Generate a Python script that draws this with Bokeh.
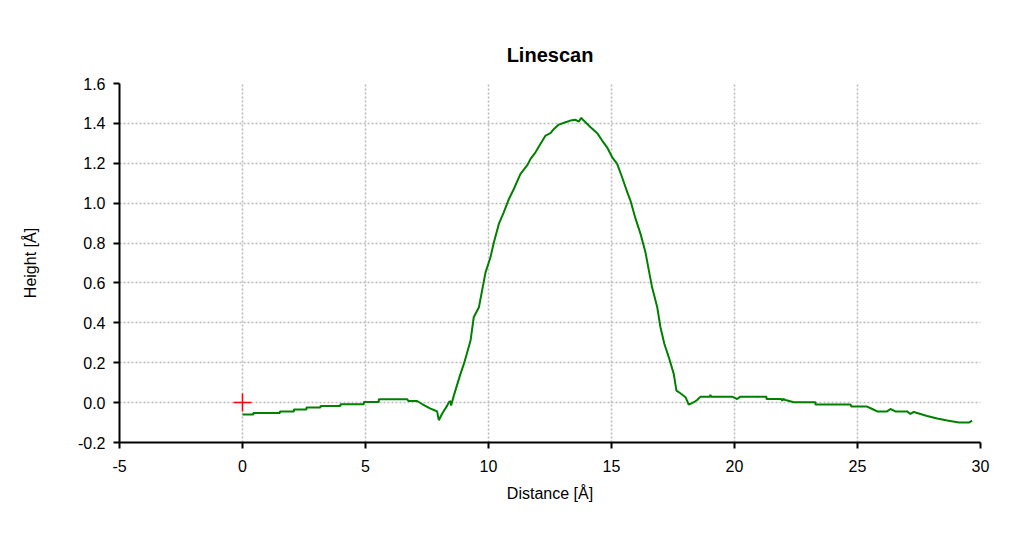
from bokeh.plotting import figure
from bokeh.models import FixedTicker, Range1d
from bokeh.embed import file_html
from bokeh.resources import INLINE

# ---- data ----
distance = [0.0, 0.44, 0.44, 1.52, 1.52, 2.09, 2.09, 2.6, 2.6, 3.17, 3.17, 3.98, 3.98,
            4.93, 4.93, 5.54, 5.54, 6.69, 6.75, 7.1, 7.3, 7.64, 7.78, 7.91, 7.98, 8.12,
            8.32, 8.39, 8.46, 8.48, 8.59, 8.86, 9.0, 9.27, 9.40, 9.61, 9.74, 9.88, 10.08,
            10.22, 10.42, 10.62, 10.83, 11.03, 11.3, 11.57, 11.71, 11.91, 12.11, 12.32,
            12.52, 12.66, 12.86, 13.13, 13.33, 13.54, 13.67, 13.77, 13.87, 14.15, 14.42,
            14.62, 14.82, 15.03, 15.23, 15.43, 15.64, 15.77, 15.98, 16.18, 16.38, 16.52,
            16.65, 16.86, 16.99, 17.15, 17.33, 17.53, 17.64, 17.80, 18.01, 18.14, 18.35,
            18.48, 18.62, 19.0, 19.02, 19.05, 19.9, 20.11, 20.24, 21.3, 21.3, 21.9, 21.94,
            21.98, 22.07, 22.41, 23.29, 23.29, 24.72, 24.75, 25.39, 25.6, 25.8, 26.2,
            26.34, 26.54, 27.02, 27.15, 27.29, 27.56, 27.83, 28.24, 28.65, 29.12, 29.53,
            29.66]
height = [-0.059, -0.059, -0.052, -0.052, -0.044, -0.044, -0.034, -0.034, -0.024, -0.024,
          -0.017, -0.017, -0.008, -0.008, 0.003, 0.003, 0.017, 0.017, 0.008, 0.008, -0.007,
          -0.030, -0.037, -0.044, -0.088, -0.055, -0.015, 0.002, 0.007, -0.015, 0.035,
          0.144, 0.194, 0.311, 0.428, 0.478, 0.562, 0.653, 0.729, 0.804, 0.896, 0.954,
          1.021, 1.071, 1.147, 1.189, 1.222, 1.255, 1.297, 1.339, 1.351, 1.372, 1.394,
          1.406, 1.414, 1.418, 1.409, 1.428, 1.414, 1.381, 1.351, 1.314, 1.280, 1.230,
          1.197, 1.130, 1.055, 1.013, 0.921, 0.846, 0.754, 0.662, 0.578, 0.478, 0.378,
          0.294, 0.227, 0.144, 0.060, 0.047, 0.027, -0.010, 0.002, 0.013, 0.030, 0.030,
          0.039, 0.030, 0.030, 0.018, 0.030, 0.030, 0.018, 0.018, 0.010, 0.018, 0.013,
          0.002, 0.002, -0.010, -0.010, -0.020, -0.020, -0.032, -0.044, -0.044, -0.032,
          -0.044, -0.044, -0.057, -0.047, -0.057, -0.067, -0.080, -0.090, -0.100, -0.100,
          -0.090]
marker_x = [0.0]
marker_y = [0.0]

x_ticks = [-5, 0, 5, 10, 15, 20, 25, 30]
x_tick_labels = ["-5", "0", "5", "10", "15", "20", "25", "30"]
y_ticks = [-0.2, 0.0, 0.2, 0.4, 0.6, 0.8, 1.0, 1.2, 1.4, 1.6]
y_tick_labels = ["-0.2", "0.0", "0.2", "0.4", "0.6", "0.8", "1.0", "1.2", "1.4", "1.6"]

FONT = "Liberation Sans"

p = figure(width=1021, height=532, output_backend="svg", toolbar_location=None,
           x_range=Range1d(-5, 30), y_range=Range1d(-0.2, 1.6),
           title="Linescan",
           min_border_left=119, min_border_right=41, min_border_top=83, min_border_bottom=90)

p.outline_line_color = None
p.background_fill_color = "white"
p.border_fill_color = "white"

p.title.align = "center"
p.title.text_font = FONT
p.title.text_font_size = "20px"
p.title.text_font_style = "bold"
p.title.text_color = "black"
p.title.standoff = 36

for ax in (p.xaxis[0], p.yaxis[0]):
    ax.axis_line_color = "black"
    ax.axis_line_width = 2
    ax.major_tick_line_color = "black"
    ax.major_tick_line_width = 2
    ax.major_tick_out = 6
    ax.major_tick_in = 0
    ax.minor_tick_line_color = None
    ax.major_label_text_font = FONT
    ax.major_label_text_font_size = "16px"
    ax.major_label_text_color = "black"
    ax.axis_label_text_font = FONT
    ax.axis_label_text_font_size = "16px"
    ax.axis_label_text_font_style = "normal"
    ax.axis_label_text_color = "black"

p.xaxis[0].ticker = FixedTicker(ticks=x_ticks)
p.xaxis[0].major_label_overrides = {t: l for t, l in zip(x_ticks, x_tick_labels)}
p.yaxis[0].ticker = FixedTicker(ticks=y_ticks)
p.yaxis[0].major_label_overrides = {t: l for t, l in zip(y_ticks, y_tick_labels)}
p.xaxis[0].axis_label = "Distance [Å]"
p.yaxis[0].axis_label = "Height [Å]"
p.xaxis[0].major_label_standoff = 11
p.yaxis[0].major_label_standoff = 8
p.xaxis[0].axis_label_standoff = 10
p.yaxis[0].axis_label_standoff = 36

for g in (p.xgrid[0], p.ygrid[0]):
    g.grid_line_color = "#b8b8b8"
    g.grid_line_dash = "2 2"
    g.grid_line_width = 1.5

p.line(distance, height, line_color="#008000", line_width=2)
p.scatter(marker_x, marker_y, marker="cross", size=18, line_color="red", line_width=1.5)

open("out.html", "w").write(file_html(p, INLINE))
